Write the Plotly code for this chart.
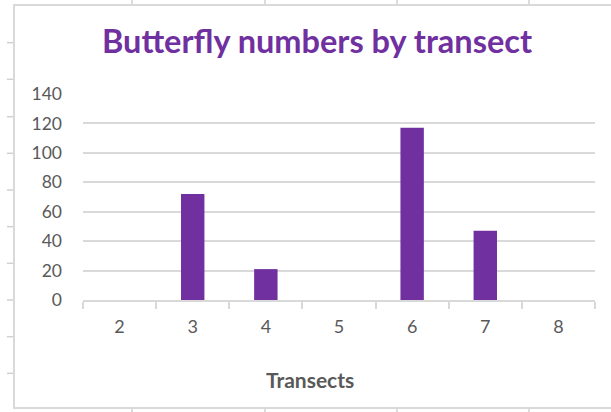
import plotly.graph_objects as go

transects = ["2", "3", "4", "5", "6", "7", "8"]
butterflies = [0, 72, 21, 0, 117, 47, 0]
y_ticks = [0, 20, 40, 60, 80, 100, 120, 140]

W, H = 611, 412
L, R, T, B = 83, 16, 94, 112
PW, PH = W - L - R, H - T - B

def px(x):
    return (x - L) / PW

def py(y):
    return 1 - (y - T) / PH

GRID = "#D9D9D9"
SHEET = "#D0D0D0"
PURPLE = "#7030A0"
TEXT = "#595959"

fig = go.Figure(go.Bar(x=transects, y=butterflies, marker=dict(color=PURPLE, line=dict(width=0))))

shapes = []
# chart border
shapes.append(dict(type="rect", xref="paper", yref="paper", x0=px(14), x1=px(620), y0=py(5), y1=py(408),
                   line=dict(color=GRID, width=2), layer="below"))
# spreadsheet row lines at the left
for yy in [42.7, 79.3, 116.7, 153.3, 190, 226.7, 263.3, 300, 336.7, 373.3]:
    shapes.append(dict(type="line", xref="paper", yref="paper", x0=px(7), x1=px(13), y0=py(yy), y1=py(yy),
                       line=dict(color=SHEET, width=1.5)))
# spreadsheet column lines top and bottom
for xx in [132, 265, 397, 529]:
    shapes.append(dict(type="line", xref="paper", yref="paper", x0=px(xx), x1=px(xx), y0=py(0), y1=py(4),
                       line=dict(color=SHEET, width=1.5)))
    shapes.append(dict(type="line", xref="paper", yref="paper", x0=px(xx), x1=px(xx), y0=py(409), y1=py(412),
                       line=dict(color=SHEET, width=1.5)))

fig.update_layout(
    width=W, height=H,
    margin=dict(l=L, r=R, t=T, b=B),
    paper_bgcolor="white", plot_bgcolor="white",
    showlegend=False,
    bargap=0.68,
    title=dict(text="<b>Butterfly numbers by transect</b>", x=317 / W, xref="container", xanchor="center",
               y=1 - 42 / H, yref="container", yanchor="middle",
               font=dict(family="Lato", size=32.5, color=PURPLE)),
    shapes=shapes,
    annotations=[dict(text="<b>Transects</b>", xref="paper", yref="paper", x=px(310), y=py(379),
                      xanchor="center", yanchor="middle", showarrow=False,
                      font=dict(family="Lato", size=21, color=TEXT))],
    xaxis=dict(type="category", showgrid=False, showline=True, linecolor=GRID, linewidth=1.5,
               ticks="outside", tickson="boundaries", ticklen=7, tickcolor=GRID, tickwidth=1.5,
               tickfont=dict(family="Lato", size=18, color=TEXT), ticklabelstandoff=10),
    yaxis=dict(range=[0, 140], tickvals=y_ticks, showgrid=True, gridcolor=GRID, gridwidth=1.5,
               showline=False, ticks="", zeroline=False,
               tickfont=dict(family="Lato", size=17.5, color=TEXT), ticklabelstandoff=20),
)

fig.write_html("out.html", config={"displayModeBar": False},
               post_script="document.body.style.margin='0';document.body.style.overflow='hidden';")
